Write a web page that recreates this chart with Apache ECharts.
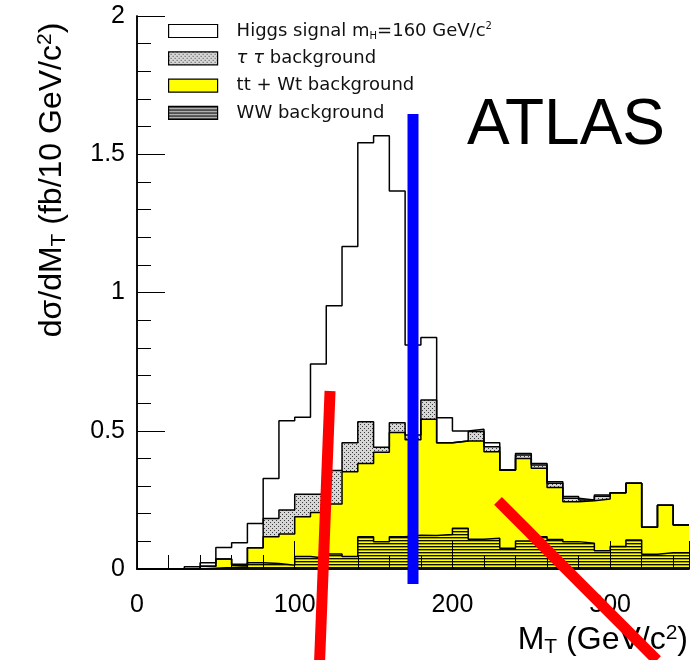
<!DOCTYPE html>
<html>
<head>
<meta charset="utf-8">
<script src="https://cdn.jsdelivr.net/npm/echarts@6/dist/echarts.min.js"></script>
<style>
  html, body { margin: 0; padding: 0; background: #fff; }
  #chart { width: 691px; height: 660px; }
</style>
</head>
<body>
<div id="chart"></div>
<script>
// Transverse mass distribution, 10 GeV bins (lower edges)
const mtBinLow = [0, 10, 20, 30, 40, 50, 60, 70, 80, 90, 100, 110, 120, 130, 140, 150, 160, 170,
  180, 190, 200, 210, 220, 230, 240, 250, 260, 270, 280, 290, 300, 310, 320, 330, 340];
const binWidth = 10;

// Contributions per bin, fb / 10 GeV (stacked: WW, tt+Wt, tau tau, Higgs signal)
const wwBackground = [0, 0, 0, 0, 0.003, 0.005, 0.008, 0.023, 0.020, 0.014, 0.045, 0.039, 0.054, 0.045,
  0.117, 0.099, 0.117, 0.122, 0.121, 0.125, 0.147, 0.108, 0.111, 0.075, 0.101, 0.117, 0.107, 0.099,
  0.093, 0.066, 0.081, 0.105, 0.053, 0.059, 0.059];
const ttWtBackground = [0, 0, 0, 0, 0.007, 0.031, 0.006, 0.054, 0.097, 0.113, 0.144, 0.165, 0.181, 0.307,
  0.265, 0.323, 0.377, 0.345, 0.421, 0.332, 0.316, 0.355, 0.313, 0.283, 0.299, 0.247, 0.188, 0.144,
  0.154, 0.187, 0.195, 0.205, 0.098, 0.172, 0.100];
const tautauBackground = [0, 0, 0, 0, 0, 0, 0.003, 0, 0.066, 0.086, 0.081, 0.066, 0.121, 0.105,
  0.151, 0.018, 0.035, 0.018, 0.069, 0, 0, 0.034, 0.018, 0, 0.012, 0.012, 0.015, 0.013,
  0.003, 0.010, 0, 0, 0, 0, 0];
const higgsSignal = [0, 0, 0, 0.008, 0.013, 0.042, 0.078, 0.088, 0.144, 0.323, 0.279, 0.471, 0.596, 0.709,
  1.009, 1.127, 0.838, 0.325, 0.226, 0.090, 0.036, 0.008, 0.015, 0, 0.006, 0.006, 0.006, 0.006,
  0, 0.005, 0, 0, 0, 0, 0];

// Axis tick labels
const xTicks = [0, 100, 200, 300];
const yTicks = [0, 0.5, 1, 1.5, 2];

// Hand-drawn marker strokes, given in (M_T, dσ/dM_T) units
const markerStrokes = [
  { color: '#ff0000', from: [122.4, 0.644], to: [115.8, -0.33] },
  { color: '#0000ff', from: [175.0, 1.646], to: [175.0, -0.054] },
  { color: '#ff0000', from: [228.9, 0.246], to: [329.7, -0.33] }
];

// ---- cumulative stacks ----
function cumulate(layers) {
  return mtBinLow.map((_, i) => layers.reduce((s, arr) => s + arr[i], 0));
}
const stackWW = cumulate([wwBackground]);
const stackTT = cumulate([wwBackground, ttWtBackground]);
const stackTau = cumulate([wwBackground, ttWtBackground, tautauBackground]);
const stackAll = cumulate([wwBackground, ttWtBackground, tautauBackground, higgsSignal]);

function stepData(values) {
  const pts = mtBinLow.map((x, i) => [x, values[i]]);
  pts.push([mtBinLow[mtBinLow.length - 1] + binWidth, values[values.length - 1]]);
  return pts;
}

// ---- fill patterns ----
function dotPattern() {
  const c = document.createElement('canvas');
  c.width = 4; c.height = 4;
  const g = c.getContext('2d');
  g.fillStyle = '#d6d6d6';
  g.fillRect(0, 0, 4, 4);
  g.fillStyle = '#3c3c3c';
  g.fillRect(0, 0, 1, 1);
  g.fillRect(2, 2, 1, 1);
  return c;
}
function hatchPattern(bg) {
  const c = document.createElement('canvas');
  c.width = 6; c.height = 3;
  const g = c.getContext('2d');
  if (bg) { g.fillStyle = bg; g.fillRect(0, 0, 6, 3); }
  g.fillStyle = 'rgba(0,0,0,0.95)';
  g.fillRect(0, 0, 6, 1);
  g.fillStyle = 'rgba(0,0,0,0.35)';
  g.fillRect(0, 1, 6, 1);
  return c;
}
const dots = { image: dotPattern(), repeat: 'repeat' };
const hatch = { image: hatchPattern(null), repeat: 'repeat' };
const hatchLegend = { image: hatchPattern('#d0d0d0'), repeat: 'repeat' };

const font = 'Liberation Sans, Arial, Helvetica, sans-serif';
const legendFont = 'DejaVu Sans, sans-serif';

const legendLabels = {
  higgs: 'Higgs signal m{sub|H}=160 GeV/c{sup|2}',
  tautau: '{it|τ τ} background',
  ttwt: 'tt + Wt background',
  ww: 'WW background'
};

function histSeries(name, values, fill) {
  return {
    name: name,
    type: 'line',
    step: 'end',
    data: stepData(values),
    symbol: 'none',
    silent: true,
    lineStyle: { color: '#000', width: 1.5 },
    areaStyle: { color: fill, opacity: 1, origin: 'start' },
    itemStyle: { color: '#000' }
  };
}

const chart = echarts.init(document.getElementById('chart'), null, { renderer: 'canvas' });

const baseAxisLine = { show: true, lineStyle: { color: '#000', width: 1.5 } };
const titleRich = {
  t: { font: '32px ' + font, fill: '#000', lineHeight: 35 },
  sub: { font: '21px ' + font, fill: '#000', lineHeight: 21, verticalAlign: 'bottom' },
  sup: { font: '21px ' + font, fill: '#000', lineHeight: 21, verticalAlign: 'top' }
};

chart.setOption({
  animation: false,
  backgroundColor: '#fff',
  grid: { left: 137, right: 2, top: 16, bottom: 91, show: false },
  xAxis: [{
    type: 'value', min: 0, max: 350, interval: 100, z: 10,
    axisLine: baseAxisLine,
    axisTick: { show: true, inside: true, length: 28, lineStyle: { color: '#000', width: 1 } },
    minorTick: { show: true, splitNumber: 5, length: 14, lineStyle: { color: '#000', width: 1 } },
    splitLine: { show: false },
    axisLabel: {
      color: '#000', fontFamily: font, fontSize: 25, margin: 24, showMaxLabel: false,
      formatter: v => (xTicks.indexOf(v) >= 0 ? String(v) : '')
    }
  }, {
    type: 'value', min: 0, max: 350, position: 'top', z: 10,
    axisLine: baseAxisLine, axisTick: { show: false }, axisLabel: { show: false }, splitLine: { show: false }
  }],
  yAxis: [{
    type: 'value', min: 0, max: 2, interval: 0.5, z: 10,
    axisLine: baseAxisLine,
    axisTick: { show: true, inside: true, length: 28, lineStyle: { color: '#000', width: 1 } },
    minorTick: { show: true, splitNumber: 5, length: 14, lineStyle: { color: '#000', width: 1 } },
    splitLine: { show: false },
    axisLabel: {
      color: '#000', fontFamily: font, fontSize: 25, margin: 12,
      formatter: v => (yTicks.indexOf(v) >= 0 ? String(v) : '')
    }
  }, {
    type: 'value', min: 0, max: 2, position: 'right', z: 10,
    axisLine: baseAxisLine, axisTick: { show: false }, axisLabel: { show: false }, splitLine: { show: false }
  }],
  legend: {
    orient: 'vertical', left: 168, top: 21, padding: 0,
    itemWidth: 49, itemHeight: 13, itemGap: 7.3,
    selectedMode: false,
    data: [
      { name: 'higgs', icon: 'rect', itemStyle: { color: '#fff', borderColor: '#000', borderWidth: 1.2 } },
      { name: 'tautau', icon: 'rect', itemStyle: { color: dots, borderColor: '#000', borderWidth: 1.2 } },
      { name: 'ttwt', icon: 'rect', itemStyle: { color: '#ffff00', borderColor: '#000', borderWidth: 1.2 } },
      { name: 'ww', icon: 'rect', itemStyle: { color: hatchLegend, borderColor: '#000', borderWidth: 1.2 } }
    ],
    formatter: n => legendLabels[n],
    textStyle: {
      fontFamily: legendFont, fontSize: 18, color: '#111', lineHeight: 20,
      padding: [0, 0, 0, 14],
      rich: {
        sub: { fontFamily: legendFont, fontSize: 10, lineHeight: 10, verticalAlign: 'bottom', color: '#111' },
        sup: { fontFamily: legendFont, fontSize: 10, lineHeight: 10, verticalAlign: 'top', color: '#111' },
        it: { fontFamily: legendFont, fontSize: 18, fontStyle: 'italic', color: '#111' }
      }
    }
  },
  series: [
    histSeries('higgs', stackAll, '#ffffff'),
    histSeries('tautau', stackTau, dots),
    histSeries('ttwt', stackTT, '#ffff00'),
    histSeries('ww', stackWW, hatch)
  ]
});

// Static texts plus marker strokes placed through the grid's coordinate system
const texts = [
  {
    id: 'atlas', type: 'text', z: 50,
    style: { text: 'ATLAS', x: 467, y: 126, font: '64px ' + font, fill: '#000',
      textAlign: 'left', textVerticalAlign: 'middle' }
  },
  {
    id: 'ytitle', type: 'text', z: 50, x: 52, y: 180, rotation: Math.PI / 2,
    style: {
      text: '{t|dσ/dM}{sub|T}{t| (fb/10 GeV/c}{sup|2}{t|)}',
      textAlign: 'center', textVerticalAlign: 'middle', rich: titleRich
    }
  },
  {
    id: 'xtitle', type: 'text', z: 50, x: 688, y: 640,
    style: {
      text: '{t|M}{sub|T}{t| (GeV/c}{sup|2}{t|)}',
      textAlign: 'right', textVerticalAlign: 'middle', rich: titleRich
    }
  }
];
const strokes = markerStrokes.map((s, i) => {
  const p1 = chart.convertToPixel({ gridIndex: 0 }, s.from);
  const p2 = chart.convertToPixel({ gridIndex: 0 }, s.to);
  return {
    id: 'stroke' + i, type: 'line', z: 100, silent: true,
    shape: { x1: p1[0], y1: p1[1], x2: p2[0], y2: p2[1] },
    style: { stroke: s.color, lineWidth: 11, lineCap: 'butt' }
  };
});
chart.setOption({ graphic: { elements: texts.concat(strokes) } });
</script>
</body>
</html>
